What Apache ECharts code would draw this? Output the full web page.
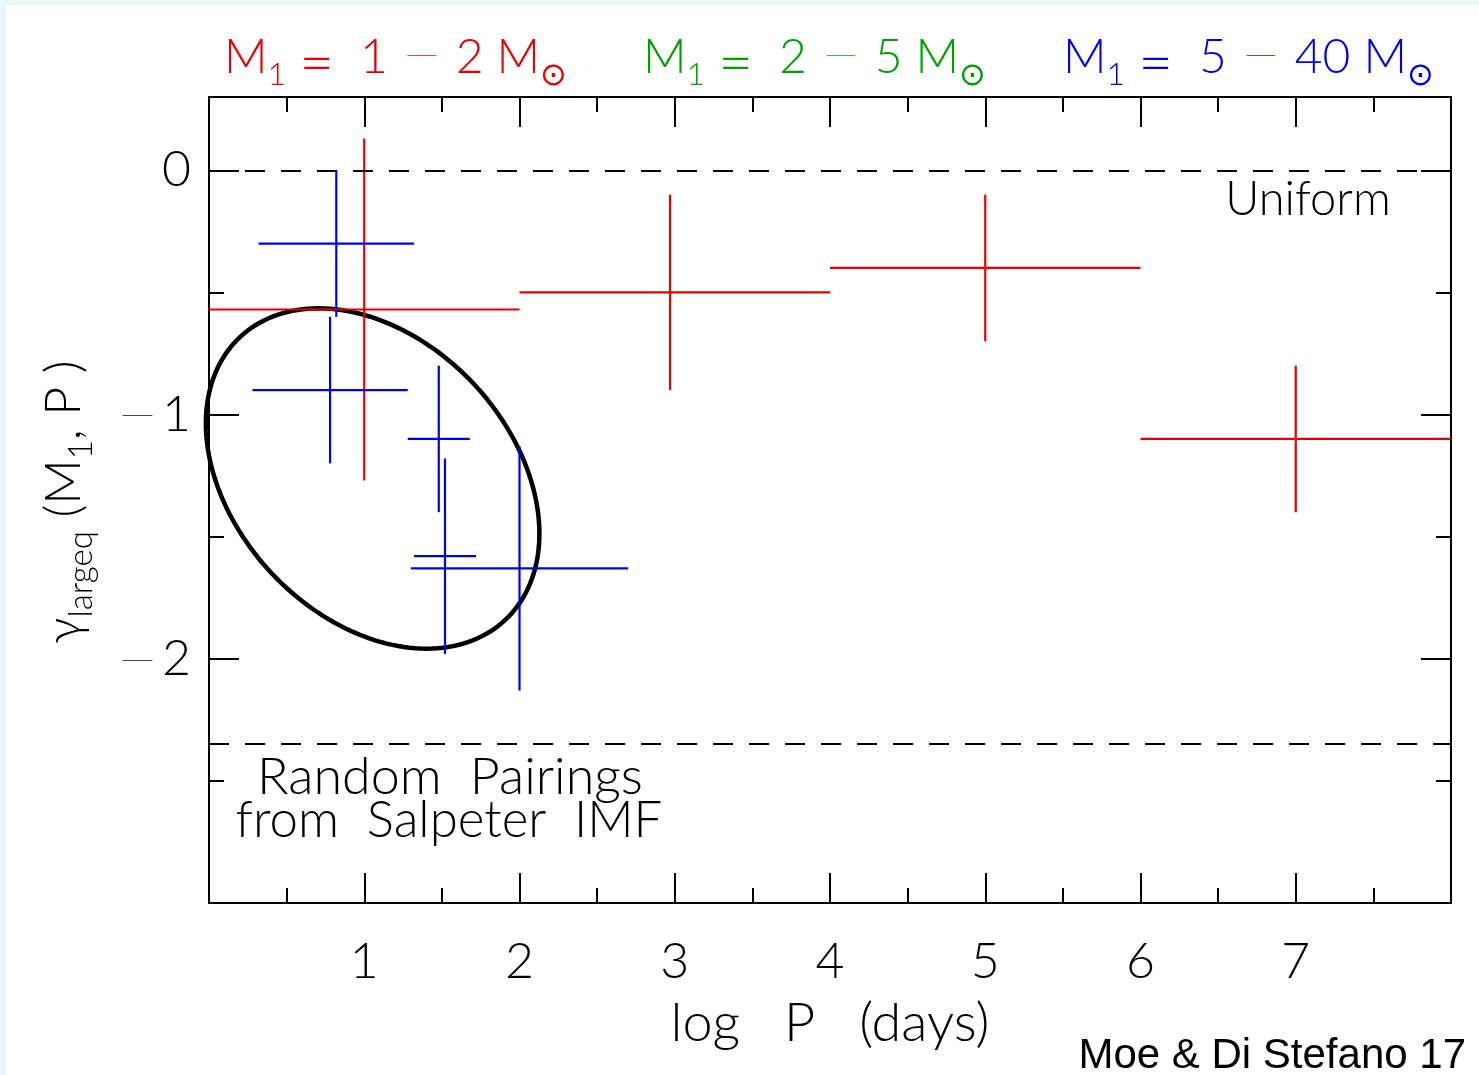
<!DOCTYPE html>
<html><head><meta charset="utf-8">
<script src="https://cdn.jsdelivr.net/npm/echarts@6/dist/echarts.min.js"></script>
<style>html,body{margin:0;padding:0;background:#eef5fd;} #c{width:1479px;height:1075px;}</style>
</head><body><div id="c"></div><script>
// ---- data ----
const xTicks = [1, 2, 3, 4, 5, 6, 7];
const yTicks = [0, -1, -2];
// M1 = 1-2 Msun (red)
const redX    = [1.00, 2.97, 5.00, 7.00];
const redXLo  = [0.00, 2.00, 4.00, 6.00];
const redXHi  = [2.00, 4.00, 6.00, 8.00];
const redY    = [-0.57, -0.50, -0.40, -1.10];
const redYLo  = [-1.27, -0.90, -0.70, -1.40];
const redYHi  = [0.13, -0.10, -0.10, -0.80];
// M1 = 5-40 Msun (blue)
const blueX   = [0.82, 0.78, 1.48, 1.52, 2.00];
const blueXLo = [0.32, 0.28, 1.28, 1.32, 1.30];
const blueXHi = [1.32, 1.28, 1.68, 1.72, 2.70];
const blueY   = [-0.30, -0.90, -1.10, -1.58, -1.63];
const blueYLo = [-0.60, -1.20, -1.40, -1.98, -2.13];
const blueYHi = [0.00, -0.60, -0.80, -1.18, -1.13];
// M1 = 2-5 Msun (green): no points shown
const greenX = [], greenXLo = [], greenXHi = [], greenY = [], greenYLo = [], greenYHi = [];
// reference levels: uniform, random pairings from Salpeter IMF
const refLevels = [0, -2.355];
// ellipse: centre and two conjugate half-axis vectors (data units)
const ellipseCenter = [1.054, -1.262];
const ellipseU = [0.856, -0.578];
const ellipseV = [-0.649, -0.389];

const FONT = 'Lato';
const FW = 300;
const MINUS_FONT = 'Lato';
const RED = '#e60000', BLUE = '#0000f0', GREEN = '#00a000';

function rows(x, xl, xh, y, yl, yh) {
  return x.map((v, i) => [v, xl[i], xh[i], y[i], yl[i], yh[i]]);
}
function errRender(color) {
  return function (params, api) {
    const x = api.value(0), xl = api.value(1), xh = api.value(2);
    const y = api.value(3), yl = api.value(4), yh = api.value(5);
    const a = api.coord([xl, y]), b = api.coord([xh, y]);
    const c = api.coord([x, yl]), d = api.coord([x, yh]);
    const st = { stroke: color, lineWidth: 2.2 };
    return { type: 'group', children: [
      { type: 'line', shape: { x1: a[0], y1: a[1], x2: b[0], y2: b[1] }, style: st },
      { type: 'line', shape: { x1: c[0], y1: c[1], x2: d[0], y2: d[1] }, style: st }
    ]};
  };
}
function ellipseRender(params, api) {
  const pts = [];
  for (let i = 0; i < 180; i++) {
    const t = i / 180 * Math.PI * 2;
    pts.push(api.coord([
      ellipseCenter[0] + Math.cos(t) * ellipseU[0] + Math.sin(t) * ellipseV[0],
      ellipseCenter[1] + Math.cos(t) * ellipseU[1] + Math.sin(t) * ellipseV[1]
    ]));
  }
  return { type: 'polygon', shape: { points: pts }, style: { fill: 'none', stroke: '#000', lineWidth: 4.5 } };
}

const axisLine = { show: true, onZero: false, lineStyle: { color: '#000', width: 2 } };
function xAx(pos, len, interval, labels) {
  return {
    type: 'value', position: pos, min: 0, max: 8, interval: interval,
    axisLine: axisLine, splitLine: { show: false },
    axisTick: { show: true, inside: true, length: len, lineStyle: { color: '#000', width: 2 } },
    axisLabel: labels ? {
      show: true, margin: 34, color: '#000', fontFamily: FONT, fontWeight: FW, fontSize: 50,
      formatter: v => xTicks.includes(v) ? String(v) : ''
    } : { show: false },
    name: labels ? 'log   P   (days)' : '', nameLocation: 'middle', nameGap: 94,
    nameTextStyle: { color: '#000', fontFamily: FONT, fontWeight: FW, fontSize: 54 }
  };
}
function yAx(pos, len, interval, labels) {
  return {
    type: 'value', position: pos, min: -3, max: 0.3, interval: interval, offset: 0,
    axisLine: axisLine, splitLine: { show: false },
    axisTick: { show: true, inside: true, length: len, lineStyle: { color: '#000', width: 2 } },
    axisLabel: labels ? {
      show: true, margin: 18, color: '#000',
      formatter: v => yTicks.includes(v) ? (v < 0 ? '{d|\u2212}{n|' + Math.abs(v) + '}' : '{n|' + v + '}') : '',
      rich: {
        n: { fontFamily: FONT, fontWeight: FW, fontSize: 50, lineHeight: 56, color: '#000' },
        d: { fontFamily: MINUS_FONT, fontWeight: 200, fontSize: 74, lineHeight: 56, color: '#000', padding: [4, 3, 0, 0] }
      }
    } : { show: false }
  };
}

const titleRich = (color) => ({
  m: { fontFamily: FONT, fontWeight: FW, fontSize: 48, lineHeight: 52, verticalAlign: 'top', padding: [13, 0, 0, 0], fill: color },
  e: { fontFamily: FONT, fontWeight: FW, fontSize: 60, lineHeight: 52, verticalAlign: 'top', padding: [13, 0, 0, 0], fill: color },
  d: { fontFamily: MINUS_FONT, fontWeight: 200, fontSize: 72, lineHeight: 30, verticalAlign: 'top', fill: color },
  s: { fontFamily: FONT, fontWeight: FW, fontSize: 32, lineHeight: 34, verticalAlign: 'top', padding: [38, 0, 0, 0], fill: color }
});
const titleText = (a, b) => '{m|M}{s|1}{m| }{e|=}{m|  ' + a + ' }{d|\u2212}{m| ' + b + ' M}{s|\u2299}';

const chart = echarts.init(document.getElementById('c'));
chart.setOption({
  backgroundColor: 'transparent',
  animation: false,
  grid: { left: 209, top: 97, right: 28, bottom: 172, containLabel: false },
  xAxis: [xAx('bottom', 15, 0.5, false), xAx('bottom', 30, 1, true), xAx('top', 15, 0.5, false), xAx('top', 30, 1, false)],
  yAxis: [yAx('left', 15, 0.5, false), yAx('left', 30, 1, true), yAx('right', 15, 0.5, false), yAx('right', 30, 1, false)],
  graphic: [
    { type: 'rect', z: -10, shape: { x: 7, y: 5, width: 1480, height: 1080 }, style: { fill: '#fff' } },
    { type: 'text', x: 224, y: 21, style: { text: titleText('1', '2'), rich: titleRich(RED), fill: RED } },
    { type: 'text', x: 643, y: 21, style: { text: titleText('2', '5'), rich: titleRich(GREEN), fill: GREEN } },
    { type: 'text', x: 1063, y: 21, style: { text: titleText('5', '40'), rich: titleRich(BLUE), fill: BLUE } },
    { type: 'text', x: 1308, y: 200, style: { text: 'Uniform', fontFamily: FONT, fontWeight: FW, fontSize: 47, fill: '#000', align: 'center', verticalAlign: 'middle' } },
    { type: 'text', x: 450, y: 777, style: { text: 'Random  Pairings', fontFamily: FONT, fontWeight: FW, fontSize: 52, fill: '#000', align: 'center', verticalAlign: 'middle' } },
    { type: 'text', x: 449, y: 821, style: { text: 'from  Salpeter  IMF', fontFamily: FONT, fontWeight: FW, fontSize: 51, fill: '#000', align: 'center', verticalAlign: 'middle' } },
    { type: 'text', x: 1466, y: 1056, style: { text: 'Moe & Di Stefano 17', fontFamily: 'Liberation Sans', fontSize: 42, fill: '#000', align: 'right', verticalAlign: 'middle' } },
    { type: 'text', x: 66, y: 502, rotation: Math.PI / 2, style: {
        text: '{m|\u03b3}{s|largeq}{m| (M}{s|1}{m|, P )}', align: 'center', verticalAlign: 'middle',
        rich: {
          m: { fontFamily: FONT, fontWeight: FW, fontSize: 50, lineHeight: 54, verticalAlign: 'top', fill: '#000' },
          s: { fontFamily: FONT, fontWeight: FW, fontSize: 33, lineHeight: 35, verticalAlign: 'top', padding: [26, 0, 0, 0], fill: '#000' }
        } } }
  ],
  series: [
    { type: 'custom', name: 'ellipse', xAxisIndex: 1, yAxisIndex: 1, data: [[0]], renderItem: ellipseRender, z: 2, silent: true },
    { type: 'custom', name: 'M1 = 1-2', xAxisIndex: 1, yAxisIndex: 1, data: rows(redX, redXLo, redXHi, redY, redYLo, redYHi), renderItem: errRender(RED), z: 3,
      markLine: { silent: true, symbol: 'none', label: { show: false }, lineStyle: { color: '#000', width: 2, type: [20, 16] },
        data: refLevels.map(v => ({ yAxis: v })) } },
    { type: 'custom', name: 'M1 = 2-5', xAxisIndex: 1, yAxisIndex: 1, data: rows(greenX, greenXLo, greenXHi, greenY, greenYLo, greenYHi), renderItem: errRender(GREEN), z: 3 },
    { type: 'custom', name: 'M1 = 5-40', xAxisIndex: 1, yAxisIndex: 1, data: rows(blueX, blueXLo, blueXHi, blueY, blueYLo, blueYHi), renderItem: errRender(BLUE), z: 3 }
  ]
});
</script></body></html>
